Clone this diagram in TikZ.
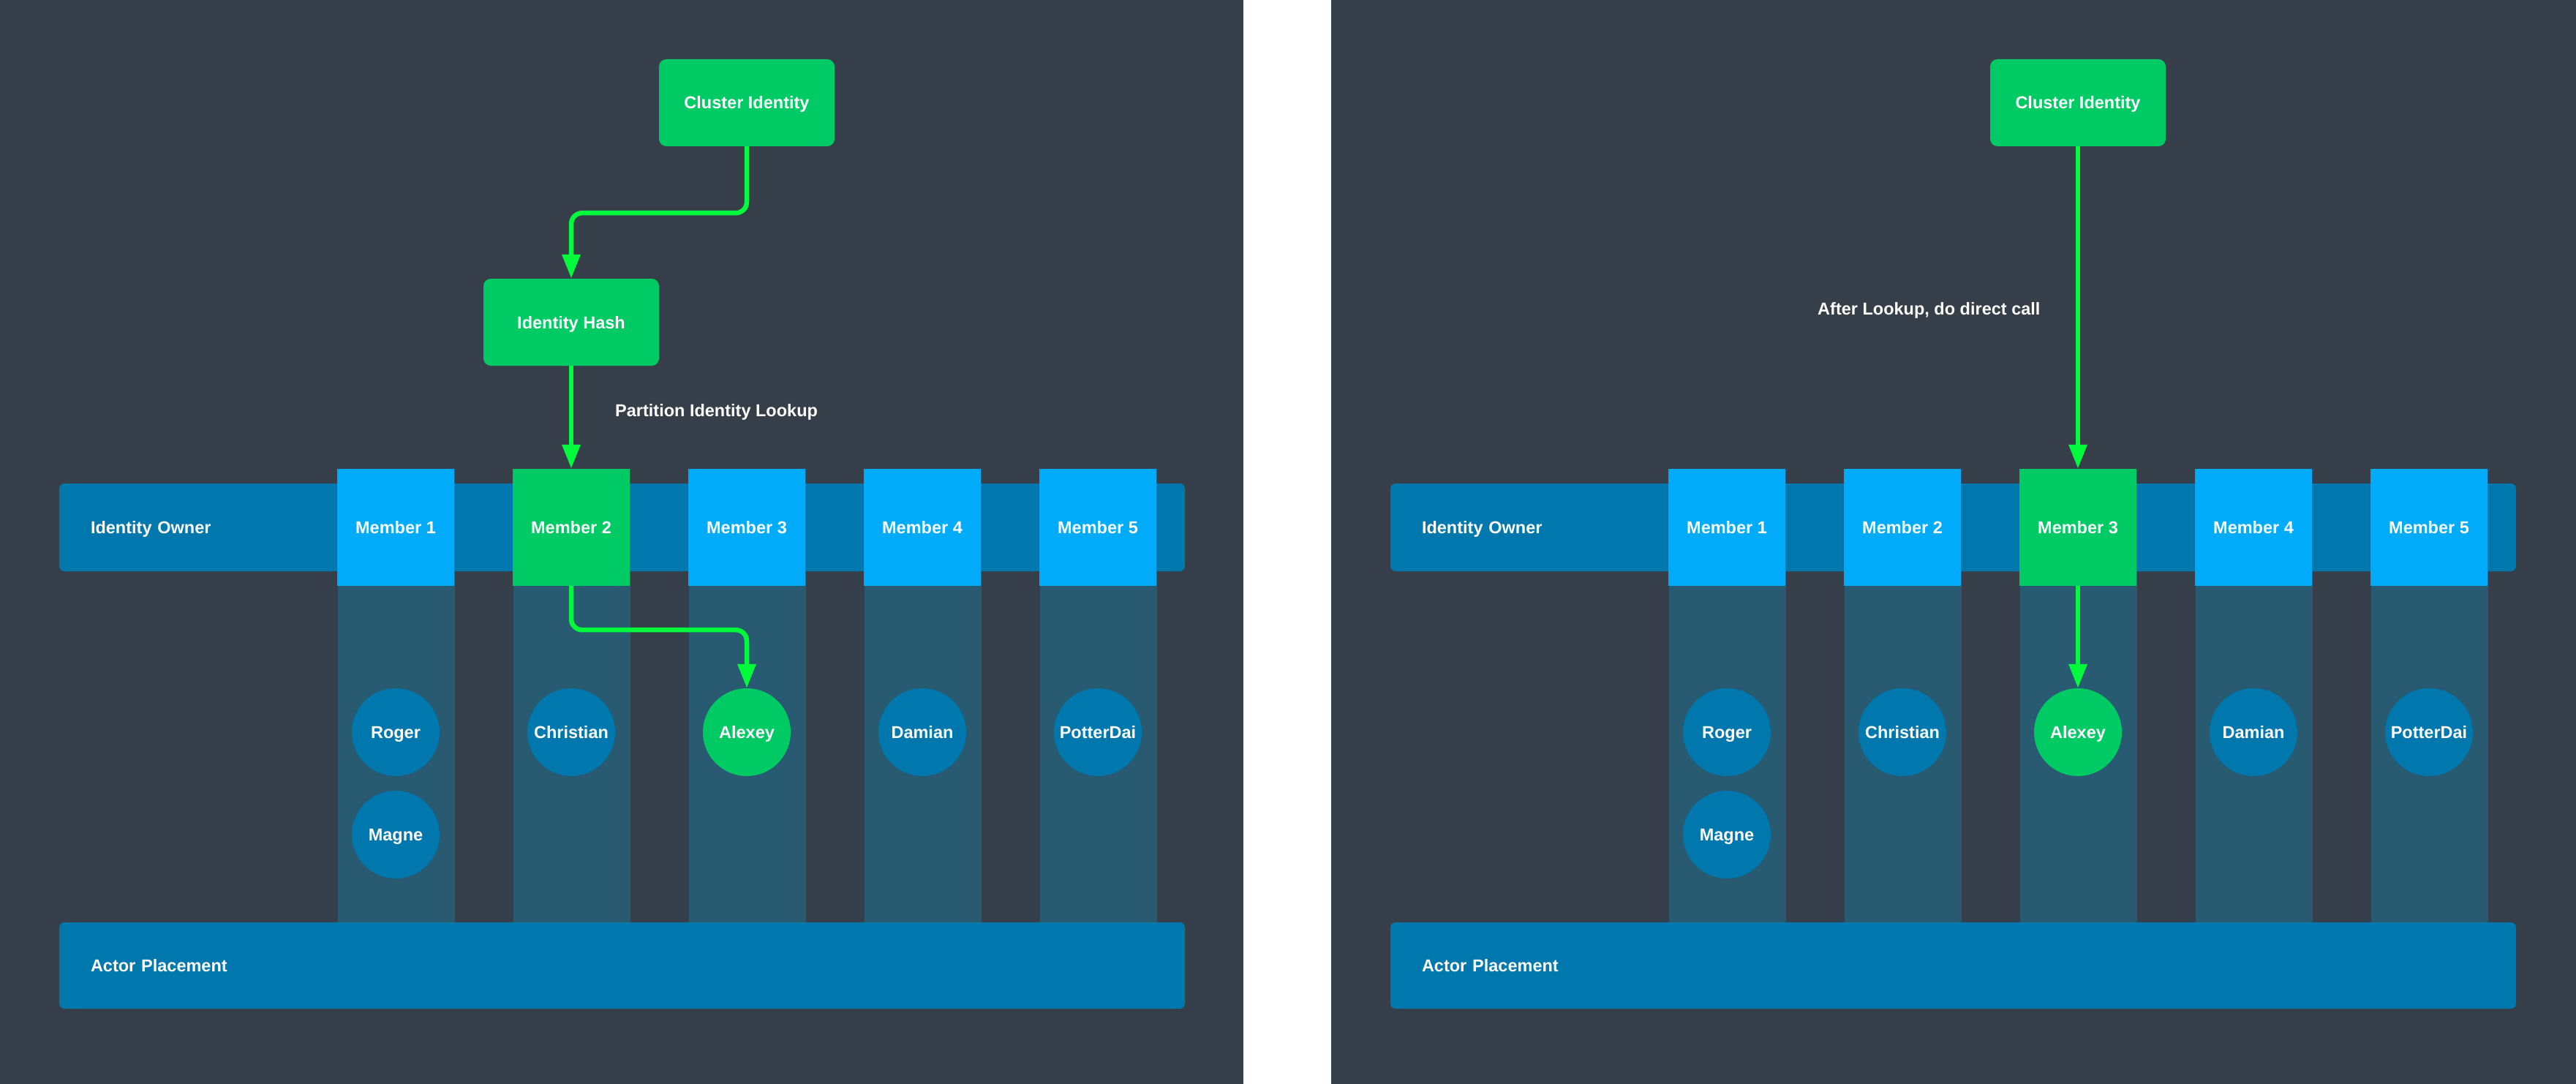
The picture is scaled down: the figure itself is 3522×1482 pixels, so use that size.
\documentclass[tikz,border=0pt]{standalone}
\usepackage{fontspec}
\setmainfont{Liberation Sans}
\usetikzlibrary{arrows.meta}
\definecolor{bgdark}{HTML}{363F49}
\definecolor{nodegreen}{HTML}{00CA64}
\definecolor{arrowgreen}{HTML}{00FA3C}
\definecolor{memberblue}{HTML}{00ACFA}
\definecolor{barblue}{HTML}{0078AD}
\definecolor{colblue}{HTML}{285A72}
\begin{document}
\begin{tikzpicture}[x=1pt,y=-1pt,
  every node/.style={font=\fontsize{23.5}{28}\selectfont\bfseries, text=white, text height=17pt, text depth=0pt},
  greenbox/.style={rectangle, rounded corners=10pt, fill=nodegreen, minimum width=240pt, minimum height=119pt, inner sep=0pt},
  memberbox/.style={rectangle, fill=memberblue, minimum width=160pt, minimum height=160pt, inner sep=0pt},
  actor/.style={circle, fill=barblue, minimum size=120pt, inner sep=0pt},
  bar/.style={rectangle, rounded corners=7pt, fill=barblue, text width=1453pt, align=left, inner xsep=43pt, inner ysep=0pt, minimum height=120pt},
  conn/.style={draw=arrowgreen, line width=6.5pt, rounded corners=15pt, -{Triangle[width=24pt,length=33pt]}},
  lbl/.style={anchor=west, inner sep=0pt}]
\useasboundingbox (0,0) rectangle (3522,1482);
\fill[white] (0,0) rectangle (3522,1482);
\fill[bgdark] (0,0) rectangle (1700,1482);
\fill[bgdark] (1820,0) rectangle (3522,1482);
\foreach \p/\dx/\hl in {L/0/2,R/1820/3}{
  \begin{scope}[xshift=\dx pt]
    \node[bar] (\p-owner) at (850.5,721) {Identity Owner};
    \node[bar, minimum height=118pt] (\p-actor) at (850.5,1320) {Actor Placement};
    \foreach \i in {1,...,5}{
      \pgfmathsetmacro\cx{541+240*(\i-1)}
      \fill[colblue] (\cx-79,781) rectangle (\cx+81,1261);
      \ifnum\i=\hl
        \node[memberbox, fill=nodegreen] (\p-m\i) at (\cx,721) {Member \i};
      \else
        \node[memberbox] (\p-m\i) at (\cx,721) {Member \i};
      \fi
    }
    \node[actor] (\p-roger) at (541,1001) {Roger};
    \node[actor] (\p-magne) at (541,1141) {Magne};
    \node[actor] (\p-christian) at (781,1001) {Christian};
    \node[actor, fill=nodegreen] (\p-alexey) at (1021,1001) {Alexey};
    \node[actor] (\p-damian) at (1261,1001) {Damian};
    \node[actor] (\p-potter) at (1501,1001) {PotterDai};
    \node[greenbox] (\p-ci) at (1021,140.5) {Cluster Identity};
  \end{scope}
}
% left panel
\node[greenbox] (L-ih) at (781,440.5) {Identity Hash};
\draw[conn] (L-ci.south) -- ++(0,91) -| (L-ih.north);
\draw[conn] (L-ih.south) -- (L-m2.north);
\draw[conn] (L-m2.south) -- ++(0,60) -| (L-alexey.north);
\node[lbl] (L-lbl) at (841,561) {Partition Identity Lookup};
% right panel
\draw[conn] (R-ci.south) -- (R-m3.north);
\draw[conn] (R-m3.south) -- (R-alexey.north);
\node[lbl] (R-lbl) at (2485,422) {After Lookup, do direct call};
\end{tikzpicture}
\end{document}
